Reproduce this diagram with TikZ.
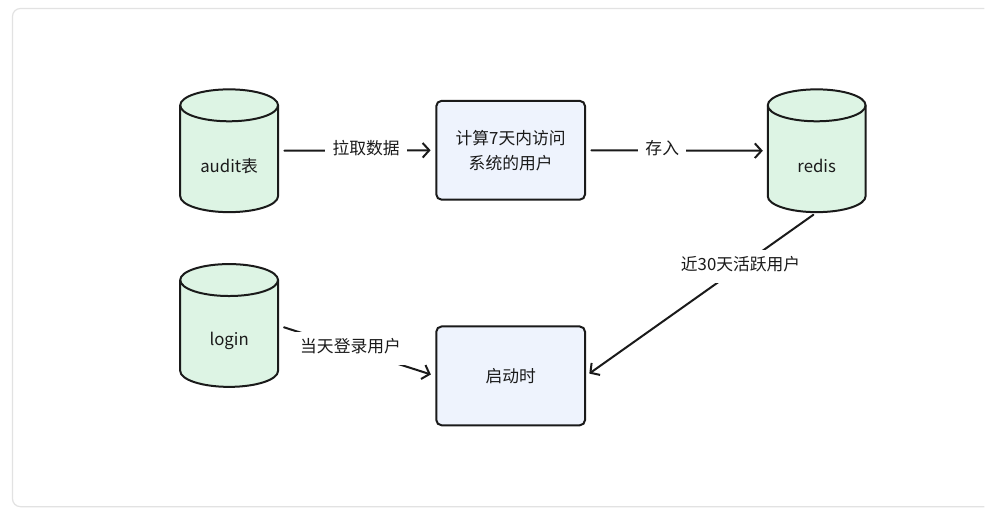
\documentclass[tikz,border=0pt]{standalone}
\usepackage{fontspec}
\setmainfont{Noto Sans CJK SC}
\usetikzlibrary{arrows.meta,calc}
\definecolor{cylfill}{HTML}{DDF4E4}
\definecolor{boxfill}{HTML}{EEF3FD}
\definecolor{framegray}{HTML}{E2E2E2}
\definecolor{ink}{HTML}{1A1A1A}
\newcommand\dbcyl[4]{%
  \node[cylbox] (#1) at (#2,#3) {};
  \fill[cylfill] (#2-49,#3-45.5) -- (#2-49,#3+45.5) arc[start angle=180,end angle=0,x radius=49,y radius=16]
     -- (#2+49,#3-45.5) arc[start angle=0,end angle=-180,x radius=49,y radius=16] -- cycle;
  \draw[cylline] (#2-49,#3-45.5) -- (#2-49,#3+45.5) arc[start angle=180,end angle=0,x radius=49,y radius=16]
     -- (#2+49,#3-45.5) arc[start angle=0,end angle=-180,x radius=49,y radius=16] -- cycle;
  \draw[cylline] (#2-49,#3-45.5) arc[start angle=180,end angle=0,x radius=49,y radius=16];
  \node[txt] (#1-text) at (#2,#3+15) {#4};
}
\begin{document}
\begin{tikzpicture}[x=0.75pt,y=-0.75pt,
  txt/.style={font=\fontsize{12.6pt}{18.75pt}\selectfont, text=ink, align=center},
  cylbox/.style={minimum width=73.5pt, minimum height=92.25pt, inner sep=0pt, draw=none},
  cylline/.style={draw=ink, line width=1.5pt, line join=round},
  procbox/.style={txt, draw=ink, line width=1.5pt, rounded corners=4pt, fill=boxfill,
    minimum width=111.75pt, minimum height=74.25pt, inner sep=0pt},
  flow/.style={draw=ink, line width=1.5pt, line cap=round, line join=round,
    -{Straight Barb[length=5pt,width=11pt,line width=1.5pt]}},
  lbl/.style={txt, fill=white, inner xsep=5.5pt, inner ysep=7.5pt, text height=0.82em, text depth=0.18em}]
\fill[white] (0,0) rectangle (985,527);
\draw[framegray, line width=0.9pt, rounded corners=6pt] (986,8.5) -- (12.5,8.5) -- (12.5,507.5) -- (986,507.5);

\dbcyl{audit}{229.5}{151}{audit表}
\dbcyl{redis}{818}{151}{redis}
\dbcyl{login}{229.5}{326}{login}

\node[procbox] (calc) at (511.5,150.5) {计算7天内访问\\系统的用户};
\node[procbox] (start) at (511.5,376.5) {启动时};

\draw[flow, shorten <=4.5pt, shorten >=3.5pt] (audit.east) -- node[lbl, pos=0.56] {拉取数据} (calc.west);
\draw[flow, shorten <=4pt, shorten >=3.5pt] (calc.east) -- node[lbl, pos=0.42] {存入} (redis.west);
\draw[flow, shorten <=3pt, shorten >=3pt] (redis.south) -- node[lbl, pos=0.33] {近30天活跃用户} (start.east);
\draw[flow, shorten <=4.5pt, shorten >=3.5pt] (login.east) -- node[lbl, pos=0.46] {当天登录用户} (start.west);
\end{tikzpicture}
\end{document}
